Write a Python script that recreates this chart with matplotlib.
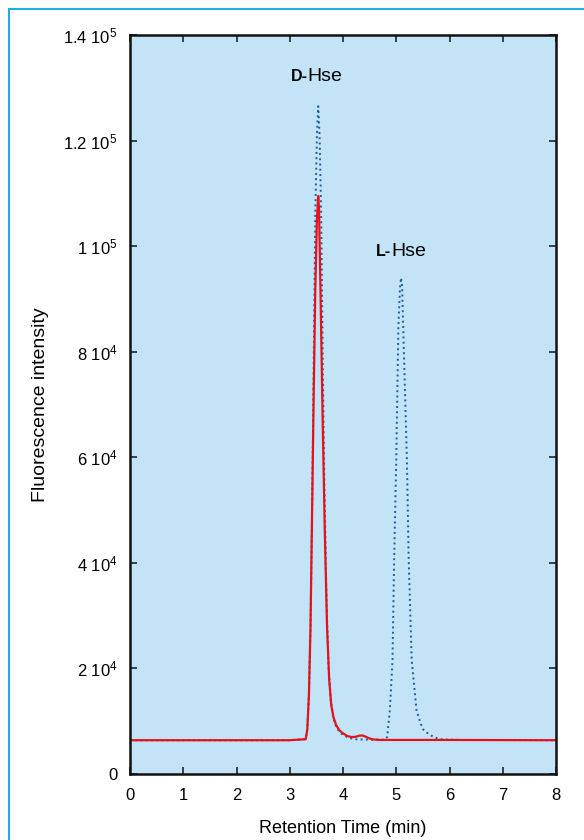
import matplotlib
matplotlib.use("Agg")
import matplotlib.pyplot as plt
from matplotlib.lines import Line2D

plt.rcParams['font.family'] = ['Liberation Sans', 'DejaVu Sans']
plt.rcParams['mathtext.fontset'] = 'custom'
plt.rcParams['mathtext.rm'] = 'Liberation Sans'
plt.rcParams['mathtext.it'] = 'Liberation Sans'

# red trace (D-Hse sample)
t_red = [0, 3.0, 3.30, 3.33, 3.36, 3.39, 3.42, 3.45, 3.48, 3.51, 3.535, 3.55,
         3.58, 3.62, 3.66, 3.70, 3.74, 3.78, 3.82, 3.87, 3.93, 4.0, 4.08, 4.16,
         4.24, 4.30, 4.36, 4.42, 4.48, 4.56, 4.7, 6.0, 8.0]
v_red = [6400, 6400, 6600, 8500, 15000, 28000, 50000, 72000, 92000, 105000, 109500, 107000,
         90000, 66000, 45000, 28000, 18000, 13000, 10800, 9300, 8300, 7700, 7200, 7000,
         7050, 7250, 7300, 7100, 6800, 6550, 6450, 6450, 6400]

# dotted trace (D + L standard)
t_std = [0, 3.0, 3.30, 3.33, 3.36, 3.39, 3.42, 3.45, 3.48, 3.51, 3.535, 3.56,
         3.59, 3.62, 3.65, 3.69, 3.73, 3.77, 3.82, 3.87, 3.93, 4.0, 4.1, 4.2,
         4.5, 4.78, 4.83, 4.88, 4.93, 4.96, 5.00, 5.04, 5.07, 5.09, 5.11, 5.13,
         5.20, 5.234, 5.29, 5.38, 5.45, 5.50, 5.58, 5.67, 5.76, 5.86, 6.2, 8.0]
v_std = [6400, 6400, 6600, 8500, 15000, 28000, 50000, 78000, 106000, 121000, 126500, 121000,
         106000, 78000, 55000, 33000, 20000, 14000, 10500, 9000, 8000, 7400, 6900, 6600,
         6500, 6500, 7000, 12100, 21600, 40500, 59500, 84700, 92000, 94000, 92500, 84700,
         59500, 40500, 21600, 12100, 9800, 8500, 7800, 7200, 6800, 6550, 6450, 6400]

x_ticks = [0, 1, 2, 3, 4, 5, 6, 7, 8]
y_ticks = [0, 20000, 40000, 60000, 80000, 100000, 120000, 140000]
y_labels = ["0", r"$\mathrm{2\ 10^{4}}$", r"$\mathrm{4\ 10^{4}}$", r"$\mathrm{6\ 10^{4}}$",
            r"$\mathrm{8\ 10^{4}}$", r"$\mathrm{1\ 10^{5}}$", r"$\mathrm{1.2\ 10^{5}}$",
            r"$\mathrm{1.4\ 10^{5}}$"]

fig = plt.figure(figsize=(5.84, 8.4), dpi=100)
ax = fig.add_axes([130 / 584, 1 - 774 / 840, 426 / 584, 739 / 840])
ax.set_facecolor("#c2e4f6")

ax.plot(t_std, v_std, color="#1f5c9c", lw=1.4, linestyle=(0, (1, 1.7)))
ax.plot(t_red, v_red, color="#e8101a", lw=1.6)

ax.set_xlim(0, 8)
ax.set_ylim(0, 140000)
ax.set_xticks(x_ticks)
ax.set_xticklabels([str(t) for t in x_ticks])
ax.set_yticks(y_ticks)
ax.set_yticklabels(y_labels)
ax.tick_params(direction="in", length=5, width=1.2, top=True, right=True,
               labelsize=12, color="#222222")
ax.tick_params(axis="y", pad=9)
ax.tick_params(axis="x", pad=10)
for s in ax.spines.values():
    s.set_linewidth(1.8)
    s.set_color("#111111")

ax.set_xlabel("Retention Time (min)", fontsize=13, labelpad=12)
ax.set_ylabel("Fluorescence intensity", fontsize=14, labelpad=10)

# peak labels
ax.text(3.333, 131300, "D-", fontsize=11.5, fontweight="bold", ha="right", va="baseline")
ax.text(3.333, 131300, "Hse", fontsize=14, ha="left", va="baseline")
ax.text(4.90, 98100, "L-", fontsize=11.5, fontweight="bold", ha="right", va="baseline")
ax.text(4.90, 98100, "Hse", fontsize=14, ha="left", va="baseline")

# cyan frame around the figure
fig.add_artist(Line2D([8.5 / 584, 8.5 / 584], [0, 1 - 9 / 840], color="#1ab0e4", lw=1.5))
fig.add_artist(Line2D([8.5 / 584, 1], [1 - 9 / 840, 1 - 9 / 840], color="#1ab0e4", lw=1.5))

fig.savefig("out.png", dpi=100, facecolor="white")
